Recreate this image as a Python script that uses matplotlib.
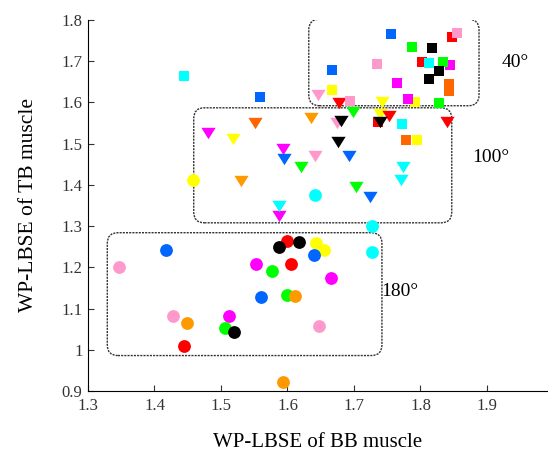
import matplotlib
matplotlib.use("Agg")
import matplotlib.pyplot as plt
from matplotlib.patches import FancyBboxPatch

# colour of each subject
colors = {
    "red": "#FF0000", "blue": "#0066FF", "green": "#00FF00", "black": "#000000",
    "cyan": "#00FFFF", "magenta": "#FF00FF", "yellow": "#FFFF00",
    "orange": "#FF9900", "darkorange": "#FF6600", "pink": "#FF99CC",
}
order = ["yellow", "red", "magenta", "green", "pink", "cyan", "blue",
         "orange", "darkorange", "black"]

# 40 degrees (squares)
sq_c = ["red", "red", "red", "blue", "blue", "blue", "green", "green", "green",
        "black", "black", "black", "cyan", "cyan", "cyan", "magenta", "magenta", "magenta",
        "yellow", "yellow", "yellow", "pink", "pink", "pink",
        "darkorange", "darkorange", "darkorange"]
sq_x = [1.848, 1.802, 1.736, 1.756, 1.667, 1.559, 1.787, 1.834, 1.828,
        1.817, 1.828, 1.813, 1.813, 1.444, 1.772, 1.765, 1.781, 1.844,
        1.667, 1.792, 1.795, 1.855, 1.735, 1.694,
        1.843, 1.843, 1.778]
sq_y = [1.759, 1.698, 1.553, 1.766, 1.679, 1.614, 1.735, 1.698, 1.599,
        1.732, 1.677, 1.657, 1.696, 1.664, 1.548, 1.647, 1.609, 1.691,
        1.631, 1.601, 1.509, 1.768, 1.693, 1.604,
        1.644, 1.628, 1.509]

# 100 degrees (triangles)
tr_c = ["red", "red", "red", "blue", "blue", "blue", "green", "green", "green",
        "black", "black", "black", "cyan", "cyan", "cyan", "magenta", "magenta", "magenta",
        "yellow", "yellow", "yellow", "orange", "orange", "darkorange",
        "pink", "pink", "pink"]
tr_x = [1.677, 1.753, 1.840, 1.692, 1.595, 1.724, 1.698, 1.620, 1.703,
        1.680, 1.739, 1.676, 1.774, 1.771, 1.587, 1.480, 1.593, 1.587,
        1.742, 1.739, 1.518, 1.635, 1.530, 1.551,
        1.646, 1.674, 1.641]
tr_y = [1.599, 1.568, 1.553, 1.471, 1.463, 1.371, 1.577, 1.444, 1.396,
        1.555, 1.553, 1.505, 1.444, 1.413, 1.350, 1.526, 1.488, 1.325,
        1.601, 1.572, 1.512, 1.563, 1.410, 1.551,
        1.618, 1.551, 1.471]

# 180 degrees (circles)
ci_c = ["red", "red", "red", "blue", "blue", "blue", "green", "green", "green",
        "black", "black", "black", "cyan", "cyan", "cyan", "magenta", "magenta", "magenta",
        "yellow", "yellow", "yellow", "orange", "orange", "orange",
        "pink", "pink", "pink"]
ci_x = [1.599, 1.605, 1.444, 1.417, 1.640, 1.560, 1.577, 1.599, 1.506,
        1.587, 1.617, 1.520, 1.727, 1.727, 1.641, 1.553, 1.665, 1.512,
        1.643, 1.655, 1.458, 1.449, 1.612, 1.593,
        1.347, 1.428, 1.648]
ci_y = [1.265, 1.209, 1.008, 1.241, 1.229, 1.127, 1.192, 1.132, 1.052,
        1.250, 1.262, 1.042, 1.301, 1.236, 1.376, 1.207, 1.175, 1.083,
        1.260, 1.243, 1.413, 1.064, 1.130, 0.921,
        1.202, 1.083, 1.057]

# groups: (x0, y0, x1, y1) and labels
boxes = [(1.632, 1.592, 1.888, 1.802), (1.459, 1.308, 1.847, 1.587), (1.329, 0.986, 1.742, 1.284)]
angle_labels = ["40°", "100°", "180°"]
label_pos = [(1.942, 1.696), (1.905, 1.466), (1.769, 1.141)]

serif = ["Liberation Serif", "DejaVu Serif"]
tri = [(-1, 0.8), (1, 0.8), (0, -0.8)]

fig = plt.figure(figsize=(5.48, 4.54), dpi=100)
ax = fig.add_axes([88 / 548, 63 / 454, 459 / 548, 371 / 454])

for name in order:
    for xs, ys, cs, mk, s in [(sq_x, sq_y, sq_c, "s", 62),
                              (tr_x, tr_y, tr_c, tri, 105),
                              (ci_x, ci_y, ci_c, "o", 85)]:
        px = [x for x, c in zip(xs, cs) if c == name]
        py = [y for y, c in zip(ys, cs) if c == name]
        if px:
            ax.scatter(px, py, marker=mk, s=s, color=colors[name], linewidths=0, zorder=3)

for (x0, y0, x1, y1) in boxes:
    ax.add_patch(FancyBboxPatch((x0, y0), x1 - x0, y1 - y0,
                                boxstyle="round,pad=0,rounding_size=0.016",
                                mutation_aspect=665 / 413, fill=False,
                                edgecolor="#333333", linewidth=1.0,
                                linestyle=(0, (1.5, 0.8)), zorder=2))

for t, (x, y) in zip(angle_labels, label_pos):
    ax.text(x, y, t, fontsize=14, family=serif, ha="center", va="center")

ax.set_xlim(1.3, 1.3 + 459 / 665)
ax.set_ylim(0.9, 1.8)
ax.set_xticks([1.3, 1.4, 1.5, 1.6, 1.7, 1.8, 1.9])
ax.set_yticks([0.9, 1.0, 1.1, 1.2, 1.3, 1.4, 1.5, 1.6, 1.7, 1.8])
ax.set_xticklabels(["1.3", "1.4", "1.5", "1.6", "1.7", "1.8", "1.9"], family=serif, fontsize=12)
ax.set_yticklabels(["0.9", "1", "1.1", "1.2", "1.3", "1.4", "1.5", "1.6", "1.7", "1.8"],
                   family=serif, fontsize=12)
ax.tick_params(direction="in", length=4, width=0.8, colors="#333333")
ax.tick_params(axis="x", pad=5)
ax.tick_params(axis="y", pad=4)
ax.spines["top"].set_visible(False)
ax.spines["right"].set_visible(False)
ax.set_xlabel("WP-LBSE of BB muscle", family=serif, fontsize=15, labelpad=14)
ax.set_ylabel("WP-LBSE of TB muscle", family=serif, fontsize=15.5, labelpad=17)

fig.savefig("out.png", dpi=100)
